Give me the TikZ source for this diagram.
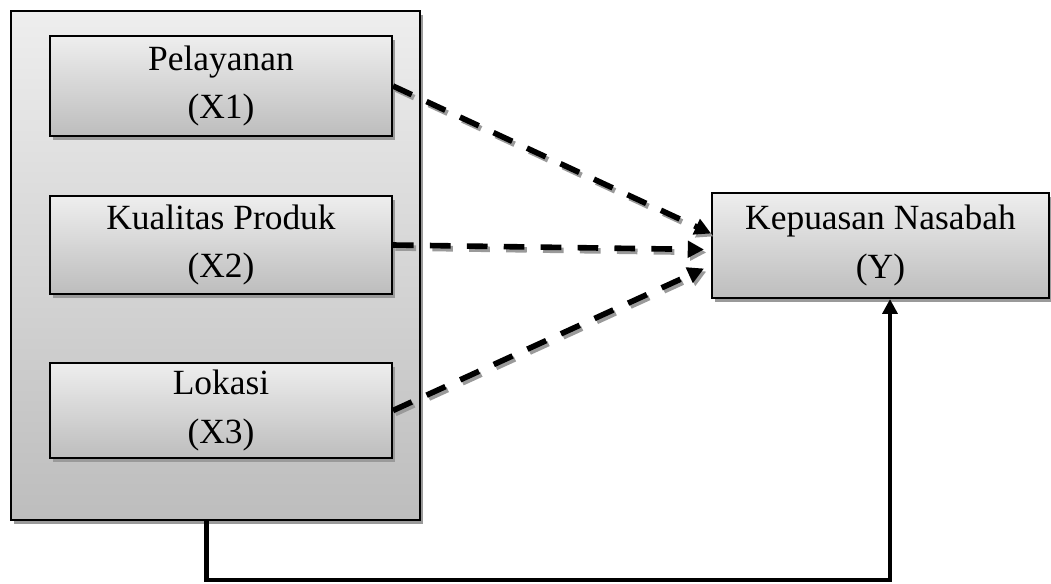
\documentclass[tikz,border=0pt]{standalone}
\usepackage{fontspec}
\setmainfont{Liberation Serif}
\usetikzlibrary{arrows.meta,shadows,calc}
\definecolor{shadetop}{HTML}{EEEEEE}
\definecolor{shadebot}{HTML}{BDBDBD}
\definecolor{shadowgray}{HTML}{9A9A9A}
\tikzset{
  varbox/.style={draw, line width=0.7pt, top color=shadetop, bottom color=shadebot,
    align=center, inner sep=0pt, font=\fontsize{12}{16.5}\selectfont,
    drop shadow={shadow xshift=1.1pt, shadow yshift=-1.3pt, fill=shadowgray, opacity=1}},
  dasharrow/.style={line width=1.9pt, dash pattern=on 7pt off 5.5pt,
    preaction={draw=shadowgray, line width=1.9pt, dash pattern=on 7pt off 5.5pt,
      transform canvas={shift={(0.8pt,-1pt)}}},
    -{Triangle[length=5.5pt,width=5.5pt]}},
}
\begin{document}
\begin{tikzpicture}[x=0.0119cm, y=-0.0119cm]
\useasboundingbox (0,0) rectangle (1051,583);

\node[varbox, minimum width=4.87cm, minimum height=6.06cm] (vars) at (215.5,265.5) {};
\node[varbox, minimum width=4.07cm, minimum height=1.19cm] (x1) at (221,86) {Pelayanan\\(X1)};
\node[varbox, minimum width=4.07cm, minimum height=1.16cm] (x2) at (221,245) {Kualitas Produk\\(X2)};
\node[varbox, minimum width=4.07cm, minimum height=1.13cm] (x3) at (221,410.5) {Lokasi\\(X3)};
\node[varbox, minimum width=4.01cm, minimum height=1.25cm] (y) at (880.5,245.5) {Kepuasan Nasabah\\(Y)};

\draw[dasharrow] (x1.east) -- ($(y.west)+(0,-12)$);
\draw[dasharrow] (x2.east) -- ($(y.west)+(-7,4)$);
\draw[dasharrow] (x3.east) -- ($(y.west)+(-7,23)$);

\coordinate (corner) at (890,580);
\draw[line width=1.4pt, -{Triangle[length=5pt,width=5pt]}] ($(vars.south)+(-9,0)$) |- (corner) -- (corner |- y.south);
\end{tikzpicture}
\end{document}
